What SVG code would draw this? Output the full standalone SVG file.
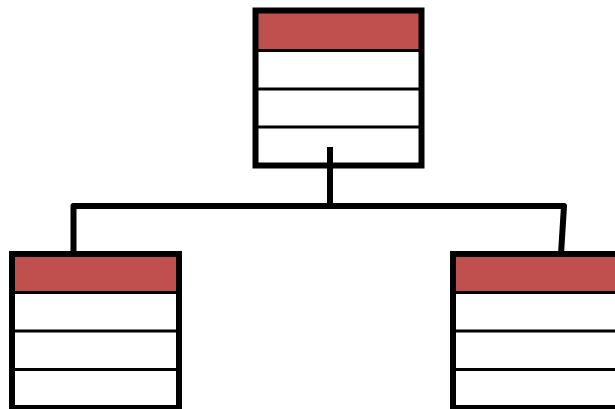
<svg xmlns="http://www.w3.org/2000/svg" width="615" height="409" viewBox="0 0 615 409">
<style>
.hdr{fill:#C0504D;stroke:none}
.box{fill:none;stroke:#000;stroke-width:6}
.div{stroke:#000;stroke-width:3}
.con{fill:none;stroke:#000;stroke-width:6;stroke-linejoin:round}
</style>
<rect x="0" y="0" width="615" height="409" fill="#fff"/>
<g id="node-top">
<rect class="hdr" x="255.5" y="10.5" width="166" height="40"/>
<line class="div" x1="255.5" y1="50.5" x2="421.5" y2="50.5"/>
<line class="div" x1="255.5" y1="89" x2="421.5" y2="89"/>
<line class="div" x1="255.5" y1="127" x2="421.5" y2="127"/>
<rect class="box" x="255.5" y="10.5" width="166" height="155"/>
</g>
<g id="node-left">
<rect class="hdr" x="12" y="254" width="167" height="38.5"/>
<line class="div" x1="12" y1="292.5" x2="179" y2="292.5"/>
<line class="div" x1="12" y1="331" x2="179" y2="331"/>
<line class="div" x1="12" y1="369.5" x2="179" y2="369.5"/>
<rect class="box" x="12" y="254" width="167" height="154"/>
</g>
<g id="node-right">
<rect class="hdr" x="453" y="254" width="167" height="38.5"/>
<line class="div" x1="453" y1="292.5" x2="620" y2="292.5"/>
<line class="div" x1="453" y1="331" x2="620" y2="331"/>
<line class="div" x1="453" y1="369.5" x2="620" y2="369.5"/>
<rect class="box" x="453" y="254" width="167" height="154"/>
</g>
<g id="connectors">
<path class="con" d="M330,147 V206"/>
<path class="con" d="M73.5,254 V206 H564 L561,254"/>
</g>
</svg>
